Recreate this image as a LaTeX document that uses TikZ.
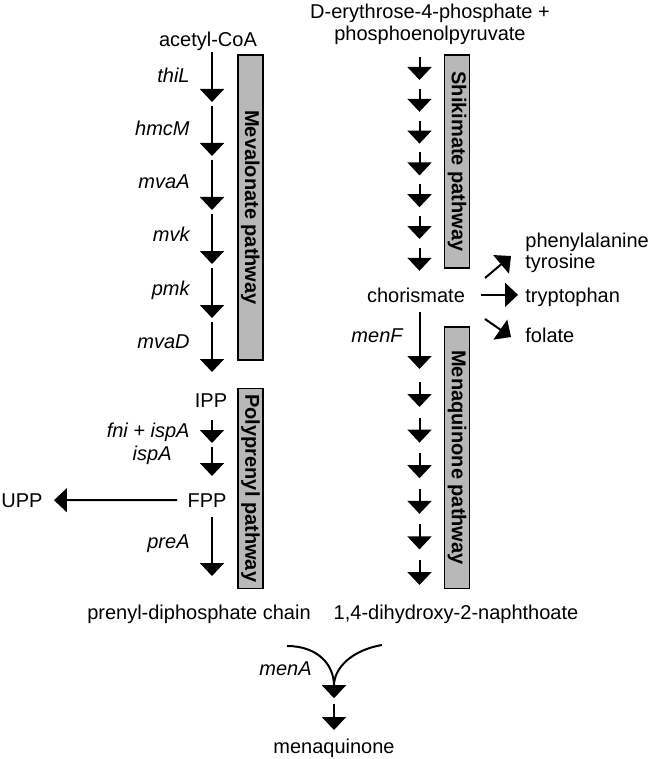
\documentclass[tikz,border=0pt]{standalone}
\usepackage{fontspec}
\setmainfont{Liberation Sans}
\usetikzlibrary{arrows.meta}
\definecolor{pathwaygray}{gray}{0.72}

\begin{document}
\begin{tikzpicture}[
	x=0.5pt, y=-0.5pt,
	metabolite/.style={inner sep=0pt, anchor=base},
	gene/.style={inner sep=0pt, anchor=base east, font=\itshape},
	reaction/.style={line width=1pt, -{Triangle[width=12pt, length=6.5pt]}},
	pathway/.style={draw, fill=pathwaygray, line width=0.8pt, inner sep=0pt,
		minimum height=12.5pt, rotate=-90, font=\bfseries}
]
	\useasboundingbox (0,0) rectangle (654,759);

	% mevalonate pathway
	\node[metabolite] (acetyl) at (208,47) {acetyl-CoA};
	\foreach \g [count=\i from 0] in {thiL,hmcM,mvaA,mvk,pmk,mvaD} {
		\coordinate (mev\i top) at (212,52+54*\i);
		\coordinate (mev\i tip) at (212,102+54*\i);
		\draw[reaction] (mev\i top) -- (mev\i tip);
		\node[gene] (gene\i) at (190,83+53*\i) {\g};
	}
	\node[pathway, minimum width=152.5pt] (mevbox) at (250.3,207.5) {Mevalonate pathway};

	% polyprenyl pathway
	\node[metabolite] (IPP) at (211,407) {IPP};
	\node[metabolite] (FPP) at (207,507) {FPP};
	\node[metabolite] (UPP) at (22,507) {UPP};
	\coordinate (ipp top) at (212,420);
	\coordinate (ipp tip) at (212,443);
	\coordinate (fpp top) at (212,447);
	\coordinate (fpp tip) at (212,476);
	\coordinate (pre top) at (212,517);
	\coordinate (pre tip) at (212,576);
	\draw[reaction] (ipp top) -- (ipp tip);
	\draw[reaction] (fpp top) -- (fpp tip);
	\draw[reaction] (pre top) -- (pre tip);
	\node[gene] (fni) at (190,437) {fni + ispA};
	\node[gene] (ispA) at (172,460) {ispA};
	\node[gene] (preA) at (190,548) {preA};
	\draw[reaction, shorten <=5pt, shorten >=5.5pt] (FPP) -- (UPP);
	\node[pathway, minimum width=100pt] (polybox) at (250.5,488.3) {Polyprenyl pathway};
	\node[metabolite] (prenyl) at (199,619) {prenyl-diphosphate chain};

	% shikimate pathway
	\node[align=center, inner sep=0pt, font=\fontsize{10}{11}\selectfont] (E4P) at (430,24)
		{D-erythrose-4-phosphate +\\phosphoenolpyruvate};
	\foreach \i in {0,...,6} {
		\coordinate (shi\i top) at (419.5,57+31.8*\i);
		\coordinate (shi\i tip) at (419.5,80+31.8*\i);
		\draw[reaction] (shi\i top) -- (shi\i tip);
	}
	\node[pathway, minimum width=106.5pt] (shikbox) at (457,161.5) {Shikimate pathway};
	\node[metabolite] (chorismate) at (416,302) {chorismate};

	% menaquinone pathway
	\coordinate (menF top) at (419.5,312);
	\coordinate (menF tip) at (419.5,369);
	\draw[reaction] (menF top) -- (menF tip);
	\node[gene] (menF) at (403,342) {menF};
	\foreach \i in {0,...,5} {
		\coordinate (men\i top) at (419.5,382+35.6*\i);
		\coordinate (men\i tip) at (419.5,407+35.6*\i);
		\draw[reaction] (men\i top) -- (men\i tip);
	}
	\node[pathway, minimum width=130.8pt] (menbox) at (457,457.5) {Menaquinone pathway};
	\node[metabolite] (DHNA) at (456,619) {1,4-dihydroxy-2-naphthoate};

	% branches from chorismate
	\node[metabolite, anchor=base west] (phe) at (525,247) {phenylalanine};
	\node[metabolite, anchor=base west] (tyr) at (525,268) {tyrosine};
	\node[metabolite, anchor=base west] (trp) at (525,302) {tryptophan};
	\node[metabolite, anchor=base west] (folate) at (525,342) {folate};
	\coordinate (phe tail) at (485,278);
	\coordinate (phe tip) at (511,256);
	\coordinate (fol tail) at (485,319);
	\coordinate (fol tip) at (511,337);
	\draw[reaction] (phe tail) -- (phe tip);
	\draw[reaction, shorten <=8pt, shorten >=3.5pt] (chorismate.east) -- (chorismate.east -| trp.west);
	\draw[reaction] (fol tail) -- (fol tip);

	% menA
	\coordinate (chain end) at (287,646);
	\coordinate (DHNA end) at (382,645);
	\coordinate (menA tip) at (334,698);
	\draw[reaction] (chain end) .. controls (318,646) and (334,665) .. (menA tip);
	\draw[reaction] (DHNA end) .. controls (352,650) and (334,668) .. (menA tip);
	\node[gene] (menA) at (312,675) {menA};
	\coordinate (mq top) at (334,704);
	\coordinate (mq tip) at (334,730);
	\draw[reaction] (mq top) -- (mq tip);
	\node[metabolite] (menaquinone) at (334,753) {menaquinone};
\end{tikzpicture}
\end{document}
